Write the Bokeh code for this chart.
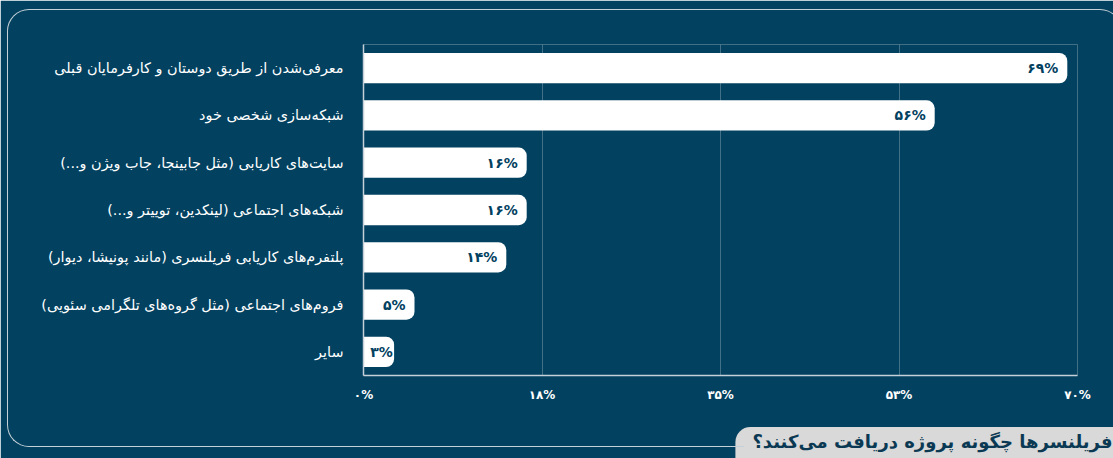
from bokeh.plotting import figure
from bokeh.models import ColumnDataSource, Range1d, FactorRange, FixedTicker, Label, InlineStyleSheet
from bokeh.core.properties import value
from bokeh.embed import file_html
from bokeh.resources import INLINE

categories = [
    "معرفی‌شدن از طریق دوستان و کارفرمایان قبلی",
    "شبکه‌سازی شخصی خود",
    "سایت‌های کاریابی (مثل جابینجا، جاب ویژن و...)",
    "شبکه‌های اجتماعی (لینکدین، توییتر و...)",
    "پلتفرم‌های کاریابی فریلنسری (مانند پونیشا، دیوار)",
    "فروم‌های اجتماعی (مثل گروه‌های تلگرامی سئویی)",
    "سایر",
]
values = [69, 56, 16, 16, 14, 5, 3]
value_labels = ["۶۹%", "۵۶%", "۱۶%", "۱۶%", "۱۴%", "۵%", "۳%"]
tick_values = [0, 17.5, 35, 52.5, 70]
tick_labels = ["۰%", "۱۸%", "۳۵%", "۵۳%", "۷۰%"]
title_text = "فریلنسرها چگونه پروژه دریافت می‌کنند؟"

BG = "#02415f"
AX = "#c5d0d8"
FONT = "DejaVu Sans"
RLM = "\u200f"

factors = [c + RLM for c in categories]
# keep short bars' labels inside the plot: anchor no closer to 0 than a label's width
label_anchor = [max(v, 3.75) for v in values]

css = InlineStyleSheet(css="""
:host { position: relative; overflow: hidden; }
:host::before {
  content: ""; position: absolute; z-index: 10; pointer-events: none; box-sizing: border-box;
  left: 7px; top: 9px; width: 1115px; height: 300px;
  border-top: 1.5px solid %(ax)s; border-left: 1.5px solid %(ax)s; border-right: 1.5px solid %(ax)s;
  border-top-left-radius: 22px; border-top-right-radius: 22px;
}
:host::after {
  content: ""; position: absolute; z-index: 10; pointer-events: none; box-sizing: border-box;
  left: 7px; top: 200px; width: 737px; height: 246.5px;
  border-left: 1.5px solid %(ax)s; border-bottom: 1.5px solid %(ax)s;
  border-bottom-left-radius: 22px;
}
""" % {"ax": AX})

p = figure(width=1113, height=458,
           x_range=Range1d(0, 70), y_range=FactorRange(factors=factors[::-1]),
           output_backend="svg", toolbar_location=None,
           min_border_left=363, min_border_right=36, min_border_top=44, min_border_bottom=83,
           background_fill_color=BG, border_fill_color=BG, outline_line_color=None)
p.stylesheets = [css]

src = ColumnDataSource(dict(cat=factors, val=values, lab=value_labels, lx=label_anchor))
p.hbar(y="cat", left=0, right="val", height=0.64, source=src,
       fill_color="white", line_color=None, border_radius=(0, 8, 8, 0))
p.text(x="lx", y="cat", text="lab", source=src, x_offset=-9,
       text_align="right", text_baseline="middle", text_color=BG,
       text_font=value(FONT), text_font_size="14px", text_font_style="bold")

ticker = FixedTicker(ticks=tick_values)
p.xaxis.ticker = ticker
p.xaxis.major_label_overrides = {v: l for v, l in zip(tick_values, tick_labels)}
p.xgrid.ticker = ticker
p.xgrid.grid_line_color = "white"
p.xgrid.grid_line_alpha = 0.25
p.ygrid.grid_line_color = None

for ax in (p.xaxis, p.yaxis):
    ax.axis_line_color = AX
    ax.axis_line_width = 1.5
    ax.major_tick_line_color = None
    ax.minor_tick_line_color = None
    ax.major_tick_out = 0
    ax.major_tick_in = 0
    ax.major_label_text_color = "white"
    ax.major_label_text_font = FONT
p.xaxis.major_label_text_font_size = "12px"
p.xaxis.major_label_text_font_style = "bold"
p.xaxis.major_label_standoff = 12
p.yaxis.major_label_text_font_size = "14.4px"
p.yaxis.major_label_standoff = 20

title = Label(x=1116, y=449, x_units="canvas", y_units="canvas", text=title_text,
              text_align="right", text_baseline="middle", text_color="#0b3954",
              text_font=FONT, text_font_size="18px", text_font_style="bold",
              background_fill_color="#d9d9d9", background_fill_alpha=1.0,
              padding=dict(left=17, right=4, top=4, bottom=20),
              border_radius=dict(top_left=15, top_right=0, bottom_right=0, bottom_left=0))
p.add_layout(title, "below")

open("out.html", "w").write(file_html(p, INLINE, title="chart"))
